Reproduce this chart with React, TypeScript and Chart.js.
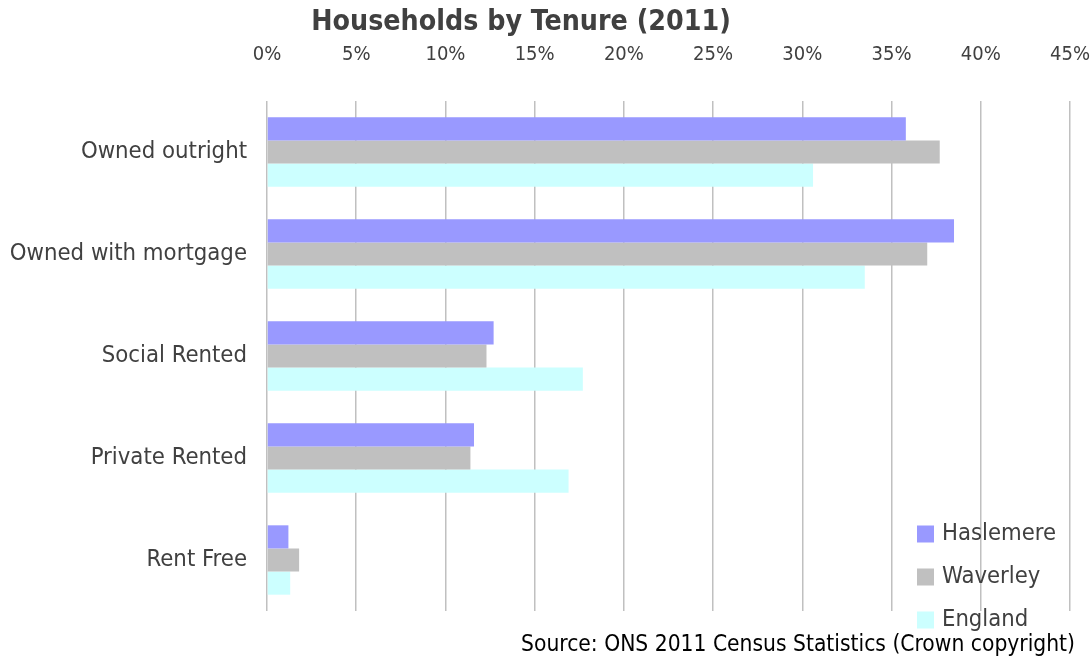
import React, { useEffect, useRef } from "react";
import { Chart, registerables } from "chart.js";

Chart.register(...registerables);

const categories = ["Owned outright", "Owned with mortgage", "Social Rented", "Private Rented", "Rent Free"];
const haslemere = [35.8, 38.5, 12.7, 11.6, 1.2];
const waverley = [37.7, 37.0, 12.3, 11.4, 1.8];
const england = [30.6, 33.5, 17.7, 16.9, 1.3];
const seriesNames = ["Haslemere", "Waverley", "England"];
const seriesColors = ["#9999ff", "#c0c0c0", "#ccffff"];
const titleText = "Households by Tenure (2011)";
const sourceText = "Source: ONS 2011 Census Statistics (Crown copyright)";

const FONT = "'DejaVu Sans Condensed', 'DejaVu Sans', sans-serif";
const TEXT = "#404040";

const overlayPlugin = {
  id: "overlay",
  afterDraw(chart: any) {
    const ctx = chart.ctx;
    ctx.save();
    ctx.fillStyle = TEXT;
    ctx.textBaseline = "middle";
    ctx.textAlign = "center";
    ctx.font = `bold 28.3px ${FONT}`;
    ctx.fillText(titleText, 521, 23);

    ctx.font = `23.6px ${FONT}`;
    ctx.textAlign = "left";
    chart.data.datasets.forEach((ds: any, i: number) => {
      const y = 534 + i * 43;
      ctx.fillStyle = ds.backgroundColor;
      ctx.fillRect(917, y - 8.5, 17, 17);
      ctx.fillStyle = TEXT;
      ctx.fillText(ds.label, 942, y);
    });

    ctx.font = `22.6px ${FONT}`;
    ctx.textAlign = "right";
    ctx.fillStyle = "#000000";
    ctx.fillText(sourceText, 1075, 645);
    ctx.restore();
  },
};

export default function App() {
  const ref = useRef<HTMLCanvasElement>(null);
  useEffect(() => {
    document.body.style.margin = "0";
    const values = [haslemere, waverley, england];
    const chart = new Chart(ref.current!, {
      type: "bar",
      data: {
        labels: categories,
        datasets: seriesNames.map((n, i) => ({
          label: n,
          data: values[i],
          backgroundColor: seriesColors[i],
          borderWidth: 0,
          categoryPercentage: 0.68,
          barPercentage: 1.0,
        })),
      },
      options: {
        indexAxis: "y",
        animation: false,
        responsive: false,
        maintainAspectRatio: false,
        layout: { padding: { left: 0, right: 21, top: 0, bottom: 46 } },
        plugins: { legend: { display: false }, title: { display: false }, tooltip: { enabled: false } },
        scales: {
          x: {
            position: "top",
            min: 0,
            max: 45,
            ticks: {
              stepSize: 5,
              callback: (v: any) => v + "%",
              color: TEXT,
              font: { family: FONT, size: 20 },
              padding: 34,
              maxRotation: 0,
            },
            grid: { color: "#c0c0c0", lineWidth: 1.5, drawTicks: false },
            border: { display: false },
            afterFit: (s: any) => {
              s.height = 101;
              s.paddingLeft = 0;
              s.paddingRight = 0;
            },
          },
          y: {
            ticks: { color: TEXT, font: { family: FONT, size: 23.7 }, padding: 20 },
            grid: { display: false, drawTicks: false },
            border: { display: false },
            afterFit: (s: any) => {
              s.width = 267;
              s.paddingTop = 0;
              s.paddingBottom = 0;
            },
          },
        },
      },
      plugins: [overlayPlugin],
    } as any);
    return () => chart.destroy();
  }, []);
  return <canvas ref={ref} width={1091} height={657} style={{ display: "block" }} />;
}
